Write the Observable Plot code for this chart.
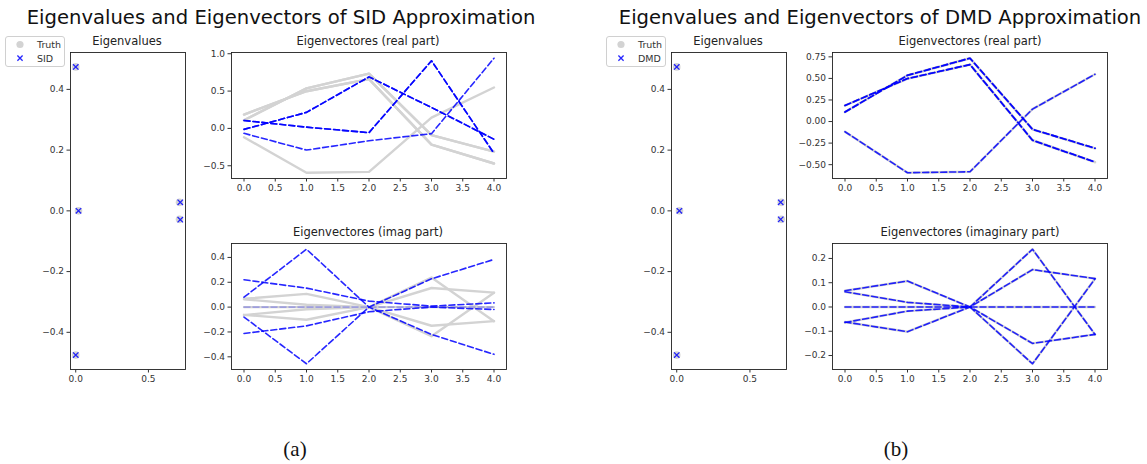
<!DOCTYPE html>
<html>
<head>
<meta charset="utf-8">
<script src="https://cdn.jsdelivr.net/npm/d3@7"></script>
<script src="https://cdn.jsdelivr.net/npm/@observablehq/plot@0.6"></script>
<style>
  html, body { margin: 0; padding: 0; background: #fff; }
  #fig { position: relative; width: 1147px; height: 464px; background: #fff; overflow: hidden; font-family: "DejaVu Sans", sans-serif; color: #222; }
  .abs { position: absolute; white-space: nowrap; }
  .suptitle { font-size: 19.6px; line-height: 19.6px; transform: translateX(-50%); color: #111; }
  .subtitle { font-size: 11.5px; line-height: 11.5px; transform: translateX(-50%); color: #222; }
  .caption { font-family: "Liberation Serif", "Times New Roman", serif; font-size: 21px; line-height: 21px; transform: translateX(-50%); color: #111; }
  .legend { border: 1px solid #d0d0d0; border-radius: 3px; background: #fff; box-sizing: border-box; }
</style>
</head>
<body>
<div id="fig"></div>
<script>
// ---------------- data ----------------
const components = [0, 1, 2, 3, 4];

// eigenvalues (real, imaginary)
const truthEigRe = [0.714, 0.714, 0.0, 0.0, 0.019];
const truthEigIm = [0.028, -0.028, 0.474, -0.475, 0.0];
const sidEigRe   = [0.719, 0.719, 0.0, 0.0, 0.019];
const sidEigIm   = [0.028, -0.029, 0.474, -0.475, 0.0];
const dmdEigRe   = [0.710, 0.710, 0.0, 0.0, 0.018];
const dmdEigIm   = [0.028, -0.028, 0.474, -0.475, 0.0];

// eigenvectors, real parts (one row per eigenvector)
const truthVecRe = [
  [0.110, 0.536, 0.734, -0.090, -0.310],
  [0.110, 0.536, 0.734, -0.090, -0.310],
  [0.186, 0.498, 0.660, -0.217, -0.470],
  [0.186, 0.498, 0.660, -0.217, -0.470],
  [-0.118, -0.594, -0.582, 0.144, 0.548]
];
// eigenvectors, imaginary parts
const truthVecIm = [
  [0.067, 0.107, 0.0, 0.154, 0.117],
  [-0.062, -0.102, 0.0, -0.150, -0.113],
  [0.063, 0.019, 0.0, 0.238, -0.113],
  [-0.064, -0.017, 0.0, -0.234, 0.116],
  [0.0, 0.0, 0.0, 0.0, 0.0]
];
const sidVecRe = [
  [0.106, 0.017, -0.057, 0.906, -0.334],
  [0.106, 0.017, -0.057, 0.906, -0.334],
  [-0.013, 0.215, 0.690, 0.280, -0.145],
  [-0.013, 0.215, 0.690, 0.280, -0.145],
  [-0.066, -0.290, -0.165, -0.070, 0.940]
];
const sidVecIm = [
  [0.220, 0.153, 0.048, 0.008, 0.034],
  [-0.212, -0.151, -0.037, 0.000, -0.019],
  [0.080, 0.466, 0.000, -0.220, -0.380],
  [-0.080, -0.456, 0.000, 0.228, 0.384],
  [0.0, 0.0, 0.0, 0.0, 0.0]
];
const dmdVecRe = [
  [0.110, 0.536, 0.734, -0.090, -0.310],
  [0.110, 0.536, 0.734, -0.090, -0.310],
  [0.186, 0.498, 0.660, -0.217, -0.470],
  [0.186, 0.498, 0.660, -0.217, -0.470],
  [-0.118, -0.594, -0.582, 0.144, 0.548]
];
const dmdVecIm = [
  [0.067, 0.107, 0.0, 0.154, 0.117],
  [-0.062, -0.102, 0.0, -0.150, -0.113],
  [0.063, 0.019, 0.0, 0.238, -0.113],
  [-0.064, -0.017, 0.0, -0.234, 0.116],
  [0.0, 0.0, 0.0, 0.0, 0.0]
];

// tick values
const eigXTicks = [0, 0.5];
const eigYTicks = [-0.4, -0.2, 0, 0.2, 0.4];
const vecXTicks = [0, 0.5, 1, 1.5, 2, 2.5, 3, 3.5, 4];
const sidReYTicks = [-0.5, 0, 0.5, 1.0];
const sidImYTicks = [-0.4, -0.2, 0, 0.2, 0.4];
const dmdReYTicks = [-0.5, -0.25, 0, 0.25, 0.5, 0.75];
const dmdImYTicks = [-0.2, -0.1, 0, 0.1, 0.2];

// texts
const suptitles = ["Eigenvalues and Eigenvectors of SID Approximation", "Eigenvalues and Eigenvectors of DMD Approximation"];
const methods = ["SID", "DMD"];
const captions = ["(a)", "(b)"];
const eigTitle = "Eigenvalues";
const reTitle = "Eigenvectores (real part)";
const imTitles = ["Eigenvectores (imag part)", "Eigenvectores (imaginary part)"];

// ---------------- helpers ----------------
const BLUE = "#0000ff";
const GRAY = "#d3d3d3";
const fig = document.getElementById("fig");

function pad(values) {
  const [a, b] = d3.extent(values);
  const m = (b - a) * 0.05;
  return [a - m, b + m];
}
function rows(matrix) {
  return matrix.flatMap((vec, s) => vec.map((v, i) => ({x: components[i], y: v, s})));
}
function pts(re, im) {
  return re.map((r, i) => ({x: r, y: im[i]}));
}
function place(node, left, top) {
  const d = document.createElement("div");
  d.className = "abs";
  d.style.left = left + "px";
  d.style.top = top + "px";
  d.appendChild(node);
  fig.appendChild(d);
}
function text(str, cls, left, top) {
  const d = document.createElement("div");
  d.className = "abs " + cls;
  d.style.left = left + "px";
  d.style.top = top + "px";
  d.textContent = str;
  fig.appendChild(d);
}
const baseStyle = {fontFamily: "DejaVu Sans", fontSize: "9px", color: "#333", background: "transparent", maxWidth: "none", overflow: "visible"};

function eigPanel(tRe, tIm, eRe, eIm, frameLeft, frameTop) {
  const mL = 40, mR = 4, mT = 4, mB = 22, fw = 115, fh = 317;
  const xs = pad([...tRe, ...eRe]);
  const ys = pad([...tIm, ...eIm]);
  const p = Plot.plot({
    width: mL + fw + mR, height: mT + fh + mB,
    marginLeft: mL, marginRight: mR, marginTop: mT, marginBottom: mB,
    style: baseStyle,
    x: {domain: xs}, y: {domain: ys},
    marks: [
      Plot.dot(pts(tRe, tIm), {x: "x", y: "y", r: 3.8, fill: GRAY, stroke: null}),
      Plot.dot(pts(eRe, eIm), {x: "x", y: "y", symbol: "times", r: 2.6, stroke: BLUE, strokeOpacity: 0.85, strokeWidth: 1.3, fill: "none"}),
      Plot.frame({stroke: "#222", strokeWidth: 0.9}),
      Plot.axisX({ticks: eigXTicks, tickSize: 3.5, tickPadding: 2.5, tickFormat: d3.format(".1f"), label: null}),
      Plot.axisY({ticks: eigYTicks, tickSize: 3.5, tickPadding: 3, tickFormat: d3.format(".1f"), label: null})
    ]
  });
  place(p, frameLeft - mL, frameTop - mT);
}

function vecPanel(truth, est, yTicks, fmt, frameLeft, frameTop, mL, zeroFaint) {
  const mR = 4, mT = 4, mB = 22, fw = 275, fh = 126;
  const ys = pad([...truth.flat(), ...est.flat()]);
  const estRows = rows(est);
  const p = Plot.plot({
    width: mL + fw + mR, height: mT + fh + mB,
    marginLeft: mL, marginRight: mR, marginTop: mT, marginBottom: mB,
    style: baseStyle,
    x: {domain: pad(components)}, y: {domain: ys},
    marks: [
      Plot.line(rows(truth), {x: "x", y: "y", z: "s", stroke: GRAY, strokeWidth: 2.4}),
      Plot.line(estRows, {x: "x", y: "y", z: "s", stroke: BLUE,
        strokeOpacity: zeroFaint ? (d => d.s === 4 ? 0.25 : 0.85) : 0.85,
        strokeWidth: 1.6, strokeDasharray: "6,3"}),
      Plot.frame({stroke: "#222", strokeWidth: 0.9}),
      Plot.axisX({ticks: vecXTicks, tickSize: 3.5, tickPadding: 2.5, tickFormat: d3.format(".1f"), label: null}),
      Plot.axisY({ticks: yTicks, tickSize: 3.5, tickPadding: 3, tickFormat: d3.format(fmt), label: null})
    ]
  });
  place(p, frameLeft - mL, frameTop - mT);
}

function legend(left, top, label) {
  const d = document.createElement("div");
  d.className = "abs legend";
  d.style.left = left + "px";
  d.style.top = top + "px";
  d.style.width = "60px";
  d.style.height = "31px";
  const ns = "http://www.w3.org/2000/svg";
  const svg = document.createElementNS(ns, "svg");
  svg.setAttribute("width", 58); svg.setAttribute("height", 29);
  svg.style.position = "absolute"; svg.style.left = "0"; svg.style.top = "0";
  svg.innerHTML =
    `<circle cx="14" cy="7.5" r="3.6" fill="${GRAY}"/>` +
    `<path d="M11.4,18.5L16.6,23.7M16.6,18.5L11.4,23.7" stroke="${BLUE}" stroke-opacity="0.85" stroke-width="1.3"/>` +
    `<text x="31" y="11" font-family="DejaVu Sans" font-size="9.5" fill="#333">Truth</text>` +
    `<text x="31" y="24.5" font-family="DejaVu Sans" font-size="9.5" fill="#333">${label}</text>`;
  d.appendChild(svg);
  fig.appendChild(d);
}

// ---------------- panel (a): SID ----------------
text(suptitles[0], "suptitle", 281, 7.5);
legend(5, 36, methods[0]);
text(eigTitle, "subtitle", 127, 35.5);
eigPanel(truthEigRe, truthEigIm, sidEigRe, sidEigIm, 70, 52);
text(reTitle, "subtitle", 368, 35.5);
vecPanel(truthVecRe, sidVecRe, sidReYTicks, ".1f", 231, 52, 40, false);
text(imTitles[0], "subtitle", 368, 226.5);
vecPanel(truthVecIm, sidVecIm, sidImYTicks, ".1f", 231, 243, 40, true);
text(captions[0], "caption", 295, 439);

// ---------------- panel (b): DMD ----------------
text(suptitles[1], "suptitle", 880, 7.5);
legend(606, 36, methods[1]);
text(eigTitle, "subtitle", 728, 35.5);
eigPanel(truthEigRe, truthEigIm, dmdEigRe, dmdEigIm, 671, 52);
text(reTitle, "subtitle", 970, 35.5);
vecPanel(truthVecRe, dmdVecRe, dmdReYTicks, ".2f", 832, 52, 46, false);
text(imTitles[1], "subtitle", 970, 226.5);
vecPanel(truthVecIm, dmdVecIm, dmdImYTicks, ".1f", 832, 243, 40, false);
text(captions[1], "caption", 896, 439);
</script>
</body>
</html>
